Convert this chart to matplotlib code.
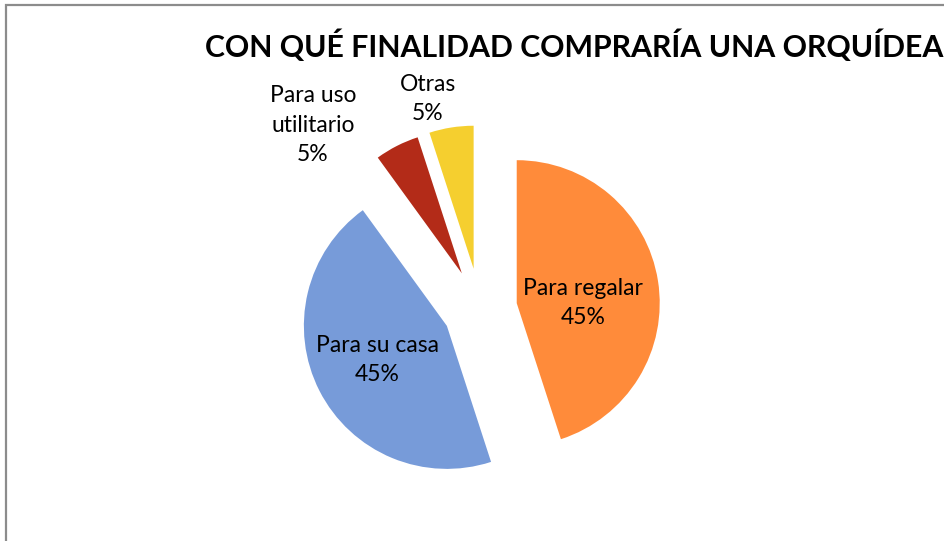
import matplotlib
matplotlib.use('Agg')
import matplotlib.pyplot as plt
from matplotlib.patches import Rectangle

# Data
categories = ['Para regalar', 'Para su casa', 'Para uso\nutilitario', 'Otras']
values = [45, 45, 5, 5]
colors = ['#FF8B3A', '#779BD9', '#B32B18', '#F5CF2F']
explode = [0.26, 0.26, 0.28, 0.285]  # fraction of radius

title = 'CON QUÉ FINALIDAD COMPRARÍA UNA ORQUÍDEA'

# label positions in pixel coords (x, y from top)
label_pos = [(583, 303), (377, 360), (313, 125), (428, 99)]

W, H = 945, 541
R = 143
fig = plt.figure(figsize=(W / 100, H / 100), dpi=100)
ax = fig.add_axes([0, 0, 1, 1])

# matplotlib's explode is an absolute offset, so scale it by the radius
ax.pie(values, explode=[e * R for e in explode], colors=colors, startangle=90,
       counterclock=False, center=(480, H - 309), radius=R,
       wedgeprops={'linewidth': 0})
ax.set_xlim(0, W)
ax.set_ylim(0, H)
ax.set_aspect('equal')
ax.axis('off')

total = sum(values)
for name, v, (x, y) in zip(categories, values, label_pos):
    ax.text(x, H - y, f"{name}\n{v / total * 100:.0f}%", ha='center', va='center',
            fontsize=16.5, family='Lato', linespacing=1.5, color='#000000')

fig.text(574 / W, 1 - 46 / H, title, ha='center', va='center', fontsize=21.8,
         family='Lato', fontweight='bold', color='#000000')

# chart frame (cut off at right and bottom)
fig.patches.append(Rectangle((6 / W, -0.1), 1.2, 1.1 - 5 / H, transform=fig.transFigure,
                             fill=False, edgecolor='#8C8C8C', linewidth=1.6))

plt.savefig('out.png', dpi=100)
plt.close()
